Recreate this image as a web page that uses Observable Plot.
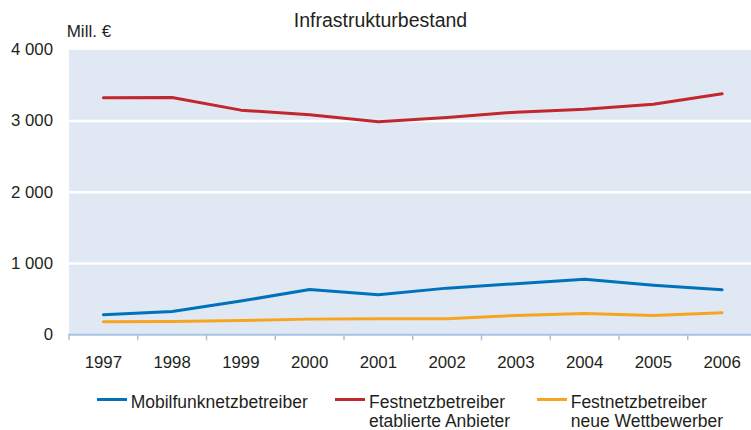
<!DOCTYPE html>
<html><head><meta charset="utf-8">
<script src="https://cdn.jsdelivr.net/npm/d3@7"></script>
<script src="https://cdn.jsdelivr.net/npm/@observablehq/plot@0.6"></script>
<style>
html,body{margin:0;padding:0;background:#fff;overflow:hidden;width:751px;height:430px;font-family:"Liberation Sans",Arial,sans-serif;color:#231f20}
#head{position:relative;height:40px}
#title{position:absolute;left:0;width:751px;text-align:center;top:11.2px;font-size:19.5px;line-height:19.5px;white-space:nowrap;padding-left:10px;box-sizing:border-box}
#unit{position:absolute;left:66.7px;top:22.9px;font-size:17px;line-height:17px;white-space:nowrap}
#chart{height:340px;width:751px;overflow:hidden}
#chart svg{overflow:hidden;display:block}
#legend{position:relative;height:50px;width:751px}
.sw{position:absolute;height:3px;width:30px;top:18px}
.lt{position:absolute;top:12.6px;font-size:17.5px;line-height:19.5px;white-space:pre-line}
</style></head>
<body>
<div id="head"><div id="title"></div><div id="unit"></div></div>
<div id="chart"></div>
<div id="legend"></div>
<script>
const title = "Infrastrukturbestand";
const unitLabel = "Mill. €";
const years = [1997, 1998, 1999, 2000, 2001, 2002, 2003, 2004, 2005, 2006];
const seriesNames = ["Mobilfunknetzbetreiber", "Festnetzbetreiber\netablierte Anbieter", "Festnetzbetreiber\nneue Wettbewerber"];
const mobil = [282, 328, 473, 636, 561, 655, 717, 780, 696, 632];
const etabliert = [3326, 3330, 3153, 3088, 2989, 3050, 3125, 3167, 3237, 3382];
const neu = [182, 187, 201, 220, 225, 225, 272, 300, 272, 309];
const colors = ["#0072bc", "#c1272d", "#f7a51e"];
const yTicks = [0, 1000, 2000, 3000, 4000];
const yGrid = [1000, 2000, 3000];

document.getElementById("title").textContent = title;
document.getElementById("unit").textContent = unitLabel;

const seriesValues = [mobil, etabliert, neu];
const rows = [];
seriesNames.forEach((s, i) => years.forEach((y, j) => rows.push({year: y, value: seriesValues[i][j], series: s})));
const boundaries = years.map(y => y - 0.5).concat([years[years.length - 1] + 0.5]);
const fmt = d => d3.format(",")(d).replace(/,/g, " ");

const plot = Plot.plot({
  width: 751, height: 340,
  marginLeft: 68.5, marginRight: -5, marginTop: 9.3, marginBottom: 45.7,
  style: {fontFamily: "Liberation Sans, Arial, sans-serif", fontSize: "16.8px", color: "#231f20", background: "white", overflow: "hidden"},
  x: {type: "linear", domain: [years[0] - 0.5, years[years.length - 1] + 0.5]},
  y: {domain: [0, 4000]},
  color: {domain: seriesNames, range: colors},
  marks: [
    Plot.frame({fill: "#e0e8f4", stroke: "none"}),
    Plot.ruleY(yGrid, {stroke: "white", strokeWidth: 2.5}),
    Plot.ruleY([0], {stroke: "#a6c2e3", strokeWidth: 2}),
    Plot.axisX(boundaries, {tickSize: 6, stroke: "#a6c2e3", strokeWidth: 1.5, tickFormat: () => "", label: null}),
    Plot.axisX(years, {tickSize: 0, tickPadding: 21, tickFormat: d => String(d), label: null, fill: "#231f20"}),
    Plot.axisY(yTicks, {tickSize: 0, tickPadding: 16, tickFormat: fmt, label: null, fill: "#231f20"}),
    Plot.line(rows, {x: "year", y: "value", z: "series", stroke: "series", strokeWidth: 3})
  ]
});
document.getElementById("chart").appendChild(plot);

const legendPos = [{line: 96.7, text: 130.7}, {line: 335, text: 369}, {line: 537.3, text: 570.7}];
const legend = document.getElementById("legend");
seriesNames.forEach((s, i) => {
  const sw = document.createElement("div");
  sw.className = "sw"; sw.style.left = legendPos[i].line + "px"; sw.style.background = colors[i];
  legend.appendChild(sw);
  const t = document.createElement("div");
  t.className = "lt"; t.style.left = legendPos[i].text + "px"; t.textContent = s;
  legend.appendChild(t);
});
</script>
</body></html>
